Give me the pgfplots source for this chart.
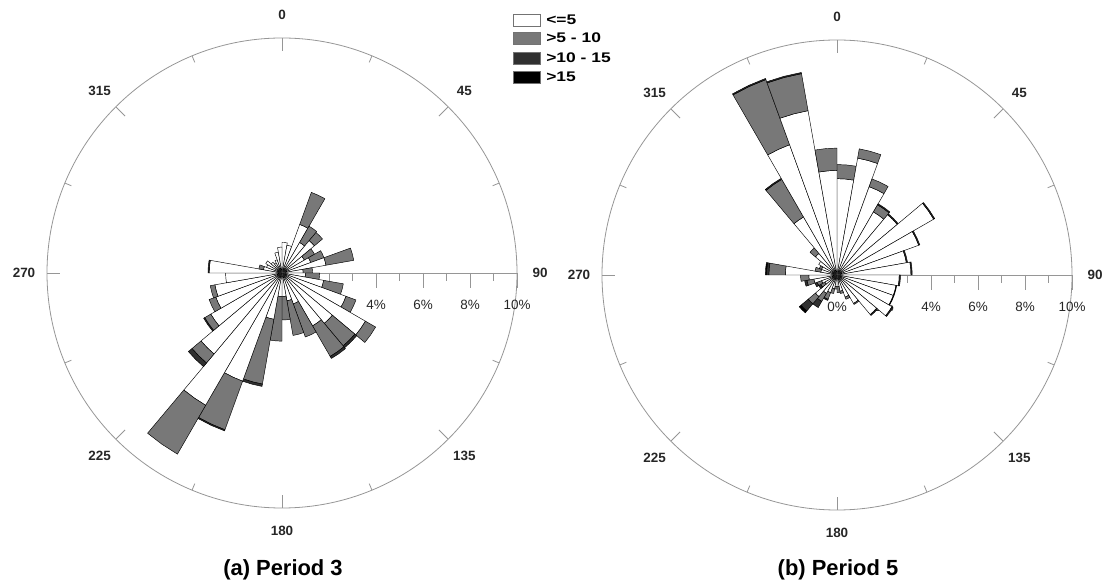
\documentclass[border=0pt]{standalone}
\usepackage{pgfplots}
\pgfplotsset{compat=1.18}
\usepackage{pgfplotstable}
\usepackage{fontspec}
\setmainfont{Liberation Sans}
\definecolor{cw}{RGB}{255,255,255}
\definecolor{cg}{RGB}{120,120,120}
\definecolor{cd}{RGB}{48,48,48}
\definecolor{cb}{RGB}{0,0,0}
\definecolor{frame}{RGB}{150,150,150}

% wind rose (a) Period 3: direction bin centre (deg), % of time per speed class
\pgfplotstableread{
dir w g d b
5 1.3 0 0 0
15 1.2 0 0 0
25 2.2 1.45 0 0
35 1.5 0.8 0 0
45 1.8 0.45 0 0
55 1.1 0.5 0 0
65 1.3 0.6 0 0
75 1.9 1.2 0 0
85 0.9 0.4 0 0
95 1.0 0.6 0 0
105 1.8 0.85 0 0
115 2.9 0.45 0 0
125 4.1 0.5 0 0
135 2.8 1.25 0.1 0
145 2.6 1.5 0.1 0
155 1.4 1.5 0 0
165 1.2 1.5 0 0
175 1.0 1.0 0 0
185 1.0 1.9 0 0
195 2.0 2.8 0.1 0
205 4.9 2.2 0.05 0
215 6.5 2.4 0 0
225 4.5 0.5 0.2 0
235 3.5 0.3 0.05 0
245 3.0 0.3 0 0
255 2.9 0.2 0 0
265 2.4 0 0 0
275 3.1 0 0.05 0
285 0.8 0.2 0 0
295 0.7 0 0 0
305 0.8 0 0 0
315 0.6 0 0 0
325 0.5 0 0 0
335 0.6 0 0 0
345 0.9 0 0 0
355 1.1 0 0 0
}\roseA

% wind rose (b) Period 5
\pgfplotstableread{
dir w g d b
5 4.1 0.6 0 0
15 5.05 0.4 0 0
25 4.0 0.35 0 0
35 3.1 0.35 0.05 0
45 3.35 0 0.05 0
55 4.75 0 0.05 0
65 3.7 0 0.05 0
75 3.0 0 0.05 0
85 3.15 0 0.05 0
95 2.65 0 0.05 0
105 2.55 0 0.03 0
115 2.55 0 0.03 0
125 2.7 0 0.05 0
135 2.2 0 0.05 0
145 1.4 0.05 0 0
155 1.0 0.1 0 0
165 0.7 0.1 0 0
175 0.5 0.25 0 0
185 0.5 0.1 0 0
195 0.6 0.2 0 0
205 0.8 0.3 0.05 0
215 0.9 0.4 0.3 0
225 1.2 0.4 0.4 0.1
235 0.6 0.2 0.1 0
245 0.7 0.2 0.1 0
255 1.0 0.3 0.1 0
265 1.2 0.35 0 0
275 2.2 0.7 0.1 0.05
285 0.7 0.25 0 0
295 0.7 0.1 0 0
305 0.9 0 0 0
315 1.2 0.3 0 0
325 2.85 1.85 0.05 0
335 5.9 2.95 0.05 0
345 7.1 1.6 0.05 0
355 4.45 0.95 0 0
}\roseB

\newcommand\seg[3]{%
  \pgfmathsetmacro\dd{#3-#2}%
  \ifdim\dd pt>0.001pt
    \edef\tmp{\noexpand\addplot[fill=#1,draw=black,line width=0.45bp,line join=round]
      coordinates {(\lo,#2) (\lo,#3) (\th,#3) (\hi,#3) (\hi,#2) (\th,#2)} -- cycle;}%
    \tmp
  \fi}

\newcommand\drawrose[1]{%
  \pgfplotsforeachungrouped \rr in {0,...,35}{%
    \pgfplotstablegetelem{\rr}{dir}\of#1\pgfmathsetmacro\th{90-\pgfplotsretval}%
    \pgfmathsetmacro\lo{\th-5}\pgfmathsetmacro\hi{\th+5}%
    \pgfplotstablegetelem{\rr}{w}\of#1\pgfmathsetmacro\ra{\pgfplotsretval}%
    \pgfplotstablegetelem{\rr}{g}\of#1\pgfmathsetmacro\rb{\ra+\pgfplotsretval}%
    \pgfplotstablegetelem{\rr}{d}\of#1\pgfmathsetmacro\rc{\rb+\pgfplotsretval}%
    \pgfplotstablegetelem{\rr}{b}\of#1\pgfmathsetmacro\rd{\rc+\pgfplotsretval}%
    \seg{cw}{0}{\ra}\seg{cg}{\ra}{\rb}\seg{cd}{\rb}{\rc}\seg{cb}{\rc}{\rd}%
  }}

\newcommand\decor[2]{%
  \begin{scope}[shift={(#1bp,#2bp)}]
    \draw[frame,line width=0.8bp] (0,0) circle[radius=235bp];
    \foreach \a in {0,45,...,315} \draw[frame,line width=0.8bp] (90-\a:235bp) -- (90-\a:222bp);
    \foreach \a in {22.5,67.5,...,337.5} \draw[frame,line width=0.8bp] (90-\a:235bp) -- (90-\a:228bp);
    \foreach \a in {0,45,...,315} \node[font=\fontsize{13.5}{15}\selectfont\bfseries,text=black!85] at (90-\a:258bp) {\a};
    \draw[frame,line width=0.8bp] (0,0) -- (235bp,0);
    \foreach \k in {1,3,5,7,9} \draw[frame,line width=0.8bp] (\k*23.5bp,0) -- ++(0,-8bp);
    \foreach \k in {2,4,6,8,10} \draw[frame,line width=0.8bp] (\k*23.5bp,0) -- ++(0,-15bp);
    \foreach \k in {0,2,4,6,8,10} \node[font=\fontsize{13.5}{15}\selectfont,text=black!85] at (\k*23.5bp,-32bp) {\k\%};
  \end{scope}}

\begin{document}
\begin{tikzpicture}
\useasboundingbox (0,0) rectangle (1109bp,584bp);
\decor{282}{311}
\decor{837}{309}

\begin{axis}[at={(282bp,311bp)}, anchor=origin, x=23.5bp, y=23.5bp,
  xmin=-10, xmax=10, ymin=-10, ymax=10, hide axis, clip=false, data cs=polar]
\drawrose{\roseA}
\end{axis}

\begin{axis}[at={(837bp,309bp)}, anchor=origin, x=23.5bp, y=23.5bp,
  xmin=-10, xmax=10, ymin=-10, ymax=10, hide axis, clip=false, data cs=polar]
\drawrose{\roseB}
\end{axis}

% titles
\node[font=\fontsize{22}{25}\selectfont\bfseries] at (283bp,14bp) {(a) Period 3};
\node[font=\fontsize{22}{25}\selectfont\bfseries] at (838bp,14bp) {(b) Period 5};

% legend
\foreach \c/\t/\yy in {cw/{<=5}/564, cg/{>5 - 10}/546, cd/{>10 - 15}/526, cb/{>15}/507}{
  \draw[fill=\c,draw=black!55,line width=0.6bp] (513bp,\yy bp-6bp) rectangle (540bp,\yy bp+6bp);
  \node[anchor=west,inner sep=0pt,font=\fontsize{14}{16}\selectfont\bfseries,xscale=1.25] at (546bp,\yy bp) {\t};
}
\end{tikzpicture}
\end{document}
